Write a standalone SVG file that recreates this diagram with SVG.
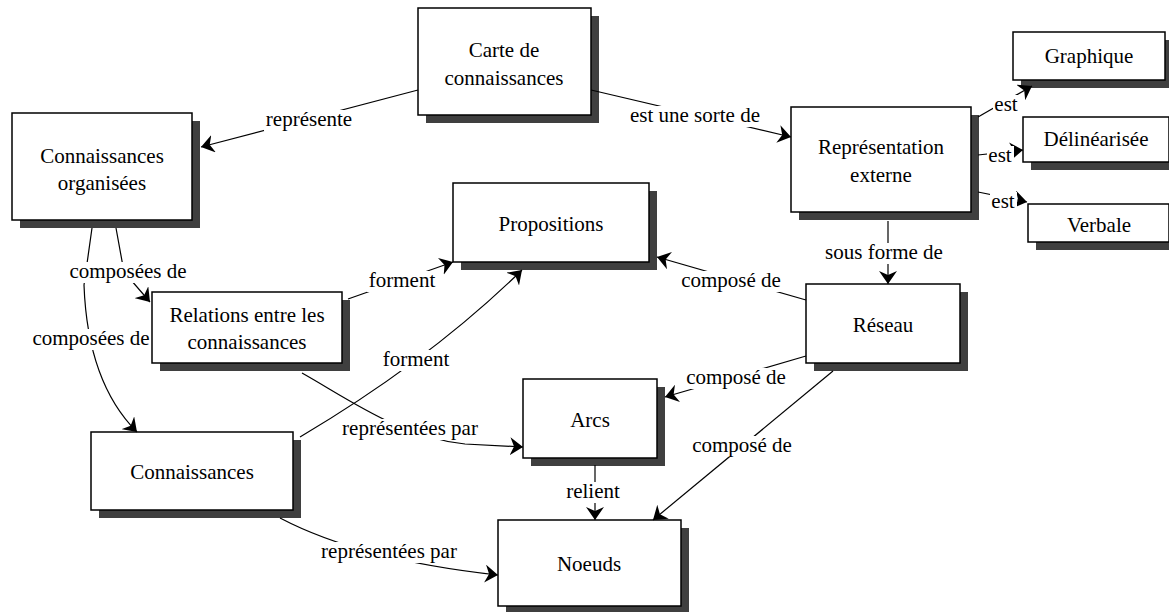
<svg xmlns="http://www.w3.org/2000/svg" width="1169" height="612" viewBox="0 0 1169 612">
<style>
.sh{fill:#3f3f3f}
.box{fill:#fff;stroke:#000;stroke-width:1.5}
.t{font-family:"Liberation Serif","Times New Roman",serif;font-size:21px;fill:#000;text-anchor:middle}
.c{fill:none;stroke:#000;stroke-width:1.2;marker-end:url(#ah)}
.lbg{fill:#fff}
</style>
<defs>
<marker id="ah" markerUnits="userSpaceOnUse" viewBox="0 0 14 18" markerWidth="14" markerHeight="18" refX="13" refY="9" orient="auto">
<path d="M13,9 L0,0 L4,9 L0,18 z" fill="#000"/>
</marker>
</defs>
<rect width="1169" height="612" fill="#fff"/>

<g id="carte">
<rect class="sh" x="426" y="16" width="173" height="107"/>
<rect class="box" x="418" y="8" width="173" height="107"/>
<text class="t" x="504" y="57">Carte de</text>
<text class="t" x="504" y="85">connaissances</text>
</g>
<g id="connorg">
<rect class="sh" x="20" y="121" width="180" height="107"/>
<rect class="box" x="12" y="113" width="180" height="107"/>
<text class="t" x="102" y="163">Connaissances</text>
<text class="t" x="102" y="190">organisées</text>
</g>
<g id="propositions">
<rect class="sh" x="461" y="191" width="196" height="79"/>
<rect class="box" x="453" y="183" width="196" height="79"/>
<text class="t" x="551" y="231">Propositions</text>
</g>
<g id="relations">
<rect class="sh" x="160" y="300" width="190" height="71"/>
<rect class="box" x="152" y="292" width="190" height="71"/>
<text class="t" x="247" y="322">Relations entre les</text>
<text class="t" x="247" y="349">connaissances</text>
</g>
<g id="connaissances">
<rect class="sh" x="99" y="440" width="202" height="78"/>
<rect class="box" x="91" y="432" width="202" height="78"/>
<text class="t" x="192" y="479">Connaissances</text>
</g>
<g id="representation">
<rect class="sh" x="799" y="115" width="180" height="105"/>
<rect class="box" x="791" y="107" width="180" height="105"/>
<text class="t" x="881" y="154">Représentation</text>
<text class="t" x="881" y="182">externe</text>
</g>
<g id="graphique">
<rect class="sh" x="1021" y="40" width="152" height="48"/>
<rect class="box" x="1013" y="32" width="152" height="48"/>
<text class="t" x="1089" y="63">Graphique</text>
</g>
<g id="delinearisee">
<rect class="sh" x="1031" y="125" width="146" height="45"/>
<rect class="box" x="1023" y="117" width="146" height="45"/>
<text class="t" x="1096" y="146">Délinéarisée</text>
</g>
<g id="verbale">
<rect class="sh" x="1036" y="212" width="141" height="38"/>
<rect class="box" x="1028" y="204" width="141" height="38"/>
<text class="t" x="1099" y="232">Verbale</text>
</g>
<g id="reseau">
<rect class="sh" x="814" y="292" width="154" height="79"/>
<rect class="box" x="806" y="284" width="154" height="79"/>
<text class="t" x="883" y="332">Réseau</text>
</g>
<g id="arcs">
<rect class="sh" x="531" y="387" width="134" height="79"/>
<rect class="box" x="523" y="379" width="134" height="79"/>
<text class="t" x="590" y="427">Arcs</text>
</g>
<g id="noeuds">
<rect class="sh" x="506" y="528" width="183" height="86"/>
<rect class="box" x="498" y="520" width="183" height="86"/>
<text class="t" x="589" y="571">Noeuds</text>
</g>

<g id="connectors">
<path class="c" d="M418,90 L201,147"/>
<path class="c" d="M591,90 L791,137"/>
<path class="c" d="M978,117 L1032,86"/>
<path class="c" d="M978,155 L1023,150"/>
<path class="c" d="M978,192 L1027,202"/>
<path class="c" d="M888,221 L888,284"/>
<path class="c" d="M806,300 L657,257"/>
<path class="c" d="M806,356 L665,397"/>
<path class="c" d="M833,371 L653,520"/>
<path class="c" d="M595,465 L595,520"/>
<path class="c" d="M116,228 L124,272 L150,302"/>
<path class="c" d="M92,228 L84,285 C86,340 100,395 137,432"/>
<path class="c" d="M348,299 L453,262"/>
<path class="c" d="M300,437 Q430,360 522,270"/>
<path class="c" d="M302,373 C350,400 400,437 465,444 L523,447"/>
<path class="c" d="M280,518 Q360,560 498,575"/>

<rect class="lbg" x="264" y="110" width="90" height="21"/><text class="t" x="309" y="126">représente</text>
<rect class="lbg" x="628" y="106" width="134" height="21"/><text class="t" x="695" y="122">est une sorte de</text>
<rect class="lbg" x="993" y="95" width="27" height="21"/><text class="t" x="1006" y="111">est</text>
<rect class="lbg" x="987" y="146" width="27" height="21"/><text class="t" x="1000" y="162">est</text>
<rect class="lbg" x="990" y="192" width="27" height="21"/><text class="t" x="1003" y="208">est</text>
<rect class="lbg" x="823" y="243" width="122" height="21"/><text class="t" x="884" y="259">sous forme de</text>
<rect class="lbg" x="679" y="271" width="104" height="21"/><text class="t" x="731" y="287">composé de</text>
<rect class="lbg" x="684" y="368" width="104" height="21"/><text class="t" x="736" y="384">composé de</text>
<rect class="lbg" x="690" y="436" width="104" height="21"/><text class="t" x="742" y="452">composé de</text>
<rect class="lbg" x="564" y="482" width="58" height="21"/><text class="t" x="593" y="498">relient</text>
<rect class="lbg" x="68" y="262" width="121" height="21"/><text class="t" x="128" y="278">composées de</text>
<rect class="lbg" x="31" y="329" width="120" height="21"/><text class="t" x="91" y="345">composées de</text>
<rect class="lbg" x="367" y="271" width="70" height="21"/><text class="t" x="402" y="287">forment</text>
<rect class="lbg" x="381" y="350" width="70" height="21"/><text class="t" x="416" y="366">forment</text>
<rect class="lbg" x="340" y="419" width="140" height="21"/><text class="t" x="410" y="435">représentées par</text>
<rect class="lbg" x="319" y="542" width="140" height="21"/><text class="t" x="389" y="558">représentées par</text>
</g>
</svg>
